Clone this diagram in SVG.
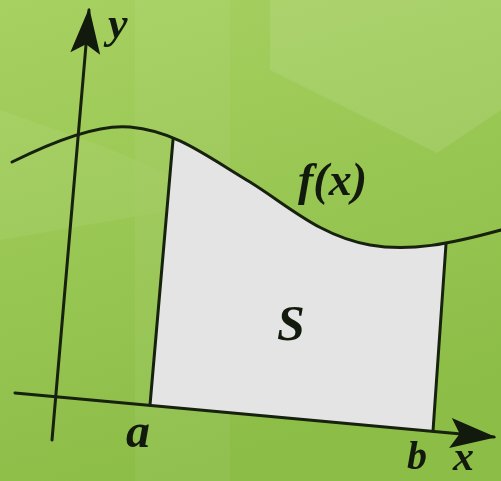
<svg xmlns="http://www.w3.org/2000/svg" width="501" height="481" viewBox="0 0 501 481">
<defs>
<linearGradient id="bg" x1="0" y1="0" x2="0.3" y2="1">
<stop offset="0" stop-color="#a7d161"/>
<stop offset="1" stop-color="#8cbd47"/>
</linearGradient>
<clipPath id="strip"><polygon points="150,405 177,100 450,190 433,431"/></clipPath>
<marker id="ah" viewBox="0 0 20 20" refX="19" refY="10" markerWidth="46" markerHeight="46" markerUnits="userSpaceOnUse" orient="auto">
<path d="M0,3.5 L20,10 L0,16.5 L4,10 Z" fill="#111a0c"/>
</marker>
<style>
.ln{fill:none;stroke:#16220e;stroke-width:3;stroke-linecap:round}
.lb{font-family:"Liberation Serif","Times New Roman",serif;font-style:italic;font-weight:bold;fill:#111a0c}
</style>
</defs>
<rect width="501" height="481" fill="url(#bg)"/>
<g opacity="0.1" fill="#ffffff">
<polygon points="270,0 437,0 437,153 270,70"/>
<polygon points="437,0 501,0 501,110 437,153"/>
<rect x="135" y="0" width="95" height="481" opacity="0.5"/>
<polygon points="0,110 100,145 230,200 0,240" opacity="0.6"/>
</g>
<g id="region">
<path d="M12,162 C60,138 100,124 130,127 C175,131 205,155 250,182 C290,207 320,236 370,245 C410,252 450,244 501,230 L501,481 L0,481 Z" fill="#e4e4e4" clip-path="url(#strip)"/>
</g>
<g id="connectors">
<line class="ln" x1="52" y1="440" x2="89" y2="10" marker-end="url(#ah)"/>
<line class="ln" x1="15" y1="393" x2="494" y2="437" marker-end="url(#ah)"/>
<path class="ln" d="M12,162 C60,138 100,124 130,127 C175,131 205,155 250,182 C290,207 320,236 370,245 C410,252 450,244 501,230"/>
<line class="ln" x1="150" y1="405" x2="173" y2="140"/>
<line class="ln" x1="433" y1="431" x2="446" y2="244"/>
</g>
<g id="labels">
<text class="lb" x="108" y="38" font-size="44">y</text>
<text class="lb" x="298" y="195" font-size="46">f(x)</text>
<text class="lb" x="277" y="340" font-size="50">S</text>
<text class="lb" x="126" y="447" font-size="48">a</text>
<text class="lb" x="407" y="469" font-size="40">b</text>
<text class="lb" x="453" y="470" font-size="42">x</text>
</g>
</svg>
